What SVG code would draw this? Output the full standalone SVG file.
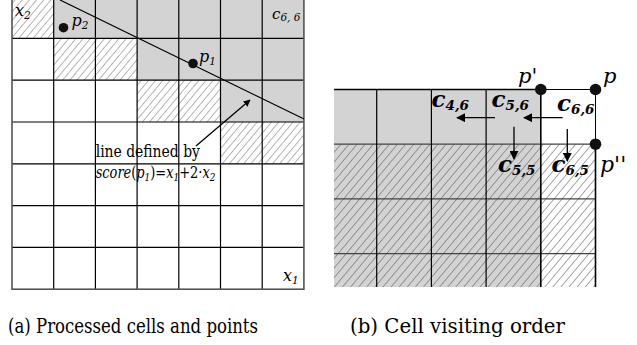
<svg xmlns="http://www.w3.org/2000/svg" width="637" height="345" viewBox="0 0 637 345">
<style>
.t{font-family:'DejaVu Serif',serif}
.i{font-style:italic}
.b{font-weight:bold}
.g{fill:#d3d3d3}
.grid{stroke:#000;stroke-width:1.2;fill:none}
.gridh{stroke:#444;stroke-width:1.2;fill:none}
.arr{stroke:#000;stroke-width:1.3;fill:none}
</style>
<defs>
<pattern id="hatchL" patternUnits="userSpaceOnUse" width="5.5" height="5.5" patternTransform="rotate(40)">
<line x1="0" y1="0" x2="0" y2="5.5" stroke="#6a6a6a" stroke-width="1"/>
</pattern>
<pattern id="hatchR" patternUnits="userSpaceOnUse" width="6.2" height="6.2" patternTransform="rotate(40)">
<line x1="0" y1="0" x2="0" y2="6.2" stroke="#5e5e5e" stroke-width="1.1"/>
</pattern>
<marker id="ah" viewBox="0 0 10 10" refX="9" refY="5" markerWidth="7" markerHeight="7" markerUnits="userSpaceOnUse" orient="auto">
<path d="M0,0 L10,5 L0,10 z" fill="#000"/>
</marker>
<marker id="ah2" viewBox="0 0 10 10" refX="9" refY="5" markerWidth="9" markerHeight="9" markerUnits="userSpaceOnUse" orient="auto">
<path d="M0,0 L10,5 L0,10 z" fill="#000"/>
</marker>
</defs>

<g id="left-grid">
<rect x="12" y="-3.4" width="291.9" height="292.6" fill="#fff"/>
<rect x="12" y="-3.4" width="41.7" height="41.8" fill="url(#hatchL)"/>
<rect class="g" x="53.7" y="-3.4" width="250.2" height="41.8"/>
<rect x="53.7" y="38.4" width="83.4" height="41.8" fill="url(#hatchL)"/>
<rect class="g" x="137.1" y="38.4" width="166.8" height="41.8"/>
<rect x="137.1" y="80.2" width="83.4" height="41.8" fill="url(#hatchL)"/>
<rect class="g" x="220.5" y="80.2" width="83.4" height="41.8"/>
<rect x="220.5" y="122" width="83.4" height="41.8" fill="url(#hatchL)"/>
<path class="grid" d="M53.7,-3.4V289.2M95.4,-3.4V289.2M137.1,-3.4V289.2M178.8,-3.4V289.2M220.5,-3.4V289.2M262.2,-3.4V289.2M12,38.4H303.9M12,80.2H303.9M12,122H303.9M12,163.8H303.9M12,205.6H303.9M12,247.4H303.9"/>
<rect x="12" y="-3.4" width="291.9" height="292.6" fill="none" stroke="#555" stroke-width="1.6"/>
</g>

<g id="right-grid">
<rect class="g" x="334" y="89.5" width="206.8" height="197.5"/>
<rect x="334" y="144.2" width="261.5" height="142.8" fill="url(#hatchR)"/>
<path class="gridh" d="M334,144.2H595.5M334,198.9H595.5M334,253.6H595.5"/>
<path class="grid" d="M376.7,89.5V287M431.4,89.5V287M486.1,89.5V287"/>
<path d="M334,89.5H540.8" stroke="#000" stroke-width="1.6"/>
<path d="M540.8,89.5H595.5V144.2" stroke="#000" stroke-width="1" fill="none"/>
<path d="M540.8,89.5V287M595.5,144.2V287" stroke="#000" stroke-width="1.6"/>
</g>

<g id="left-line">
<line x1="60" y1="0" x2="304" y2="119" stroke="#000" stroke-width="1.2"/>
</g>

<g id="connectors">
<line class="arr" x1="196" y1="146" x2="250" y2="100" marker-end="url(#ah)"/>
<line class="arr" x1="495" y1="117.7" x2="457" y2="117.7" marker-end="url(#ah2)"/>
<line class="arr" x1="562.7" y1="117.7" x2="524" y2="117.7" marker-end="url(#ah2)"/>
<line class="arr" x1="514" y1="126.7" x2="514" y2="159" marker-end="url(#ah2)"/>
<line class="arr" x1="567.3" y1="129" x2="567.3" y2="161" marker-end="url(#ah2)"/>
</g>

<g class="t" fill="#000">
<g id="p2">
<circle cx="63.5" cy="27.7" r="4.8" fill="#111"/>
<text class="i" x="71.5" y="26" font-size="16">p<tspan font-size="10.5" dy="3">2</tspan></text>
</g>
<g id="p1">
<circle cx="193" cy="63.5" r="4.8" fill="#111"/>
<text class="i" x="199" y="61.5" font-size="16">p<tspan font-size="10.5" dy="3">1</tspan></text>
</g>
<g id="left-labels">
<text class="i" x="15" y="16" font-size="16">x<tspan font-size="10.5" dy="3">2</tspan></text>
<text class="i" x="272" y="18.5" font-size="15">c<tspan font-size="10.5" dy="2">6, 6</tspan></text>
<text class="i" x="283" y="280.5" font-size="16">x<tspan font-size="10.5" dy="3">1</tspan></text>
<text transform="translate(95.7,156.5) scale(0.87,1)" font-size="16">line defined by</text>
<text transform="translate(95.7,177.5) scale(0.81,1)" font-size="16"><tspan class="i">score</tspan>(<tspan class="i">p</tspan><tspan class="i" font-size="11" dy="3">1</tspan><tspan dy="-3">)=</tspan><tspan class="i">x</tspan><tspan class="i" font-size="11" dy="3">1</tspan><tspan dy="-3">+2·</tspan><tspan class="i">x</tspan><tspan class="i" font-size="11" dy="3">2</tspan></text>
</g>

<g id="node-p-prime">
<circle cx="540.8" cy="89.5" r="5.8" fill="#111"/>
<text class="i" x="518" y="83" font-size="21">p'</text>
</g>
<g id="node-p">
<circle cx="595.5" cy="89.5" r="5.8" fill="#111"/>
<text class="i" x="603" y="83" font-size="21">p</text>
</g>
<g id="node-p-dprime">
<circle cx="595.5" cy="144.2" r="5.8" fill="#111"/>
<text class="i" x="600" y="172" font-size="22">p''</text>
</g>

<g id="cell-labels">
<text class="b i" x="431.5" y="107" font-size="23">c<tspan font-size="13.5" dy="3">4,6</tspan></text>
<text class="b i" x="491.5" y="107" font-size="23">c<tspan font-size="13.5" dy="3">5,6</tspan></text>
<text class="b i" x="557" y="111" font-size="23">c<tspan font-size="13.5" dy="3">6,6</tspan></text>
<text class="b i" x="498" y="172" font-size="23">c<tspan font-size="13.5" dy="3">5,5</tspan></text>
<text class="b i" x="551.5" y="172" font-size="23">c<tspan font-size="13.5" dy="3">6,5</tspan></text>
</g>

<g id="captions">
<text x="8" y="333" font-size="20" textLength="250" lengthAdjust="spacingAndGlyphs">(a) Processed cells and points</text>
<text x="350" y="333" font-size="20" textLength="215" lengthAdjust="spacingAndGlyphs">(b) Cell visiting order</text>
</g>
</g>
</svg>
